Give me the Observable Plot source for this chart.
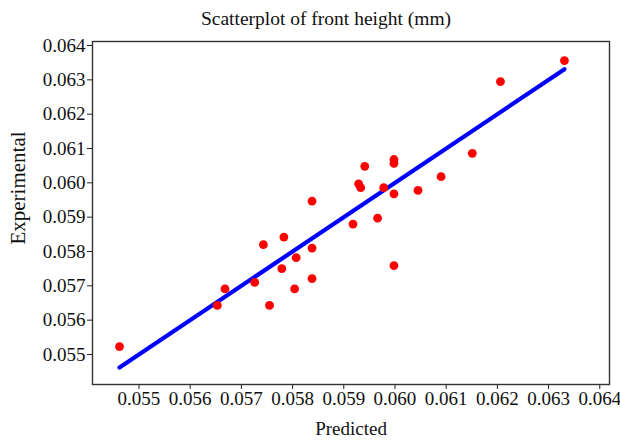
<!DOCTYPE html>
<html>
<head>
<meta charset="utf-8">
<script src="https://cdn.jsdelivr.net/npm/d3@7"></script>
<script src="https://cdn.jsdelivr.net/npm/@observablehq/plot@0.6"></script>
<style>
  html, body { margin: 0; padding: 0; background: #fff; }
  #wrap { position: relative; width: 620px; height: 445px; overflow: hidden; }
  #title { width: 588px; height: 36px; line-height: 38px; padding-left: 32px; text-align: center;
           font-family: "Liberation Serif", serif; font-size: 19.5px; color: #111; }
  #ylabel { position: absolute; left: 18px; top: 188px; transform: translate(-50%, -50%) rotate(-90deg);
            font-family: "Liberation Serif", serif; font-size: 21px; color: #111; white-space: nowrap; }
  #chart svg text { font-family: "Liberation Serif", serif !important; font-variant: normal !important; font-variant-numeric: normal !important; }
</style>
</head>
<body>
<div id="wrap">
  <div id="title"></div>
  <div id="ylabel"></div>
  <div id="chart"></div>
</div>
<script>
const titleText = "Scatterplot of front height (mm)";
const xLabel = "Predicted";
const yLabel = "Experimental";

const predicted = [0.05462, 0.05653, 0.05668, 0.05726, 0.05743, 0.05755, 0.05779, 0.05783, 0.05804, 0.05807,
  0.05838, 0.05838, 0.05838, 0.05918, 0.05929, 0.05933, 0.05941, 0.05966, 0.05978, 0.05998,
  0.05998, 0.05998, 0.05998, 0.06045, 0.06090, 0.06151, 0.06206, 0.06331];
const experimental = [0.05523, 0.05643, 0.05691, 0.05710, 0.05820, 0.05643, 0.05750, 0.05842, 0.05691, 0.05782,
  0.05947, 0.05810, 0.05721, 0.05880, 0.05997, 0.05986, 0.06048, 0.05897, 0.05986, 0.06068,
  0.06057, 0.05968, 0.05759, 0.05978, 0.06018, 0.06086, 0.06295, 0.06356];
const xTicks = [0.055, 0.056, 0.057, 0.058, 0.059, 0.060, 0.061, 0.062, 0.063, 0.064];
const yTicks = [0.055, 0.056, 0.057, 0.058, 0.059, 0.060, 0.061, 0.062, 0.063, 0.064];

document.getElementById("title").textContent = titleText;
document.getElementById("ylabel").textContent = yLabel;

const points = predicted.map((p, i) => ({p, e: experimental[i]}));
// y = x reference line over the range of predicted values
const fitLine = d3.extent(predicted).map(v => ({p: v, e: v}));
const fmt = d3.format(".3f");
const serif = "Liberation Serif";

const chart = Plot.plot({
  width: 620,
  height: 409,
  marginTop: 5,
  marginBottom: 61,
  marginLeft: 92,
  marginRight: 11,
  style: {fontFamily: "'Liberation Serif', serif", fontSize: "19px", color: "#222", background: "white", overflow: "visible"},
  x: {domain: [0.054092, 0.06419], label: null},
  y: {domain: [0.054126, 0.064117], label: null},
  marks: [
    Plot.axisX({ticks: xTicks, tickFormat: fmt, tickSize: 5, tickPadding: 2, label: null, fontSize: 19, fontFamily: serif, fontVariant: "normal", fill: "#111"}),
    Plot.axisY({ticks: yTicks, tickFormat: fmt, tickSize: 5, tickPadding: 2, label: null, fontSize: 19, fontFamily: serif, fontVariant: "normal", fill: "#111"}),
    Plot.line(fitLine, {x: "p", y: "e", stroke: "#0000ff", strokeWidth: 4.2}),
    Plot.dot(points, {x: "p", y: "e", r: 4.4, fill: "#ff0000", stroke: "none"}),
    Plot.frame({stroke: "#333", strokeWidth: 1.4}),
    Plot.text([xLabel], {frameAnchor: "bottom", dy: 50, text: d => d, fontSize: 19, fontFamily: serif, fill: "#111"})
  ]
});
document.getElementById("chart").appendChild(chart);
</script>
</body>
</html>
